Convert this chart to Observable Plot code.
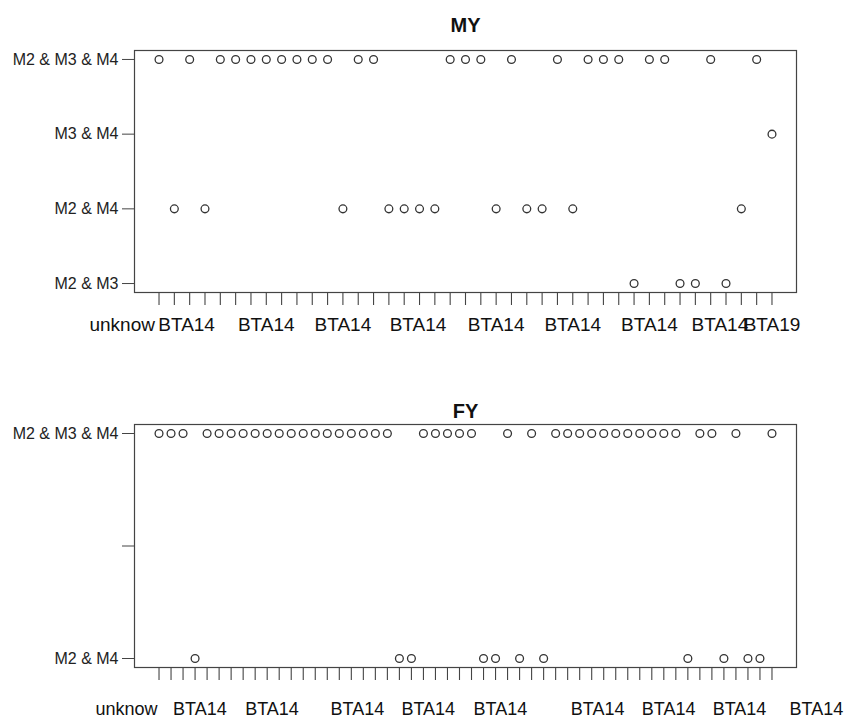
<!DOCTYPE html>
<html>
<head>
<meta charset="utf-8">
<script src="https://cdn.jsdelivr.net/npm/d3@7"></script>
<script src="https://cdn.jsdelivr.net/npm/@observablehq/plot@0.6"></script>
<style>
  body { margin: 0; background: #fff; }
  #chart svg { display: block; }
</style>
</head>
<body>
<div id="chart"></div>
<script>
// ---- MY panel data ----
const myLevels = ["M2 & M3", "M2 & M4", "M3 & M4", "M2 & M3 & M4"];
// category code (1..4 into myLevels) for each of the 41 positions
const myCodes = [4,2,4,2,4,4,4,4,4,4,4,4,2,4,4,2,2,2,2,4,4,4,2,4,2,2,4,2,4,4,4,1,4,4,1,1,4,1,2,4,3];
const myTickLabels = ["unknow","BTA14","BTA14","BTA14","BTA14","BTA14","BTA14","BTA14","BTA14","BTA19"];
const myTickLabelPos = [-1.4, 2.8, 8, 13, 17.9, 23, 28, 33, 37.6, 41];

// ---- FY panel data ----
const fyLevels = ["M2 & M4", "", "M2 & M3 & M4"];
const fyCodes = [3,3,3,1, 3,3,3,3,3,3,3,3,3,3,3,3,3,3,3,3, 1,1, 3,3,3,3,3, 1,1, 3, 1, 3, 1,
                 3,3,3,3,3,3,3,3,3,3,3, 1, 3,3, 1, 3, 1,1, 3];
const fyTickLabels = ["unknow","BTA14","BTA14","BTA14","BTA14","BTA14","BTA14","BTA14","BTA14","BTA14"];
const fyTickLabelPos = [-1.7, 4.4, 10.4, 17.5, 23.4, 29.4, 37.5, 43.4, 49.3, 55.7];

const font = "'Liberation Sans', Arial, Helvetica, sans-serif";

function panel({title, levels, codes, labels, labelPos, marginTop, marginBottom, titleDy, labelDy, labelSize}) {
  const n = codes.length;
  const idx = d3.range(1, n + 1);
  const padX = (n - 1) * 0.04;
  const padY = (levels.length - 1) * 0.04;
  return Plot.plot({
    width: 846,
    height: 360,
    marginLeft: 134,
    marginRight: 50,
    marginTop,
    marginBottom,
    style: {fontFamily: font, fontSize: "16px", color: "#222", background: "white", overflow: "visible"},
    x: {domain: [1 - padX, n + padX], axis: null},
    y: {domain: [1 - padY, levels.length + padY], axis: null},
    marks: [
      Plot.frame({stroke: "#444", strokeWidth: 1.2}),
      Plot.axisX({ticks: idx, tickSize: 13, tickFormat: () => "", stroke: "#444", strokeWidth: 1.1}),
      Plot.axisY({ticks: d3.range(1, levels.length + 1), tickFormat: (d) => levels[d - 1],
                  tickSize: 12, tickPadding: 4, fontSize: 16, stroke: "#444", fill: "#222"}),
      Plot.dot(idx, {x: idx, y: codes, r: 3.9, stroke: "#333", strokeWidth: 1.3, fill: "none"}),
      Plot.text(labels, {x: labelPos, frameAnchor: "bottom", lineAnchor: "top", dy: labelDy,
                         fontSize: labelSize, fill: "#111"}),
      Plot.text([title], {frameAnchor: "top", dy: titleDy, fontSize: 20, fontWeight: "bold", fill: "#111"})
    ]
  });
}

const chart = document.getElementById("chart");
chart.append(panel({
  title: "MY", levels: myLevels, codes: myCodes, labels: myTickLabels, labelPos: myTickLabelPos,
  marginTop: 50, marginBottom: 68, titleDy: -33, labelDy: 25, labelSize: 19
}));
chart.append(panel({
  title: "FY", levels: fyLevels, codes: fyCodes, labels: fyTickLabels, labelPos: fyTickLabelPos,
  marginTop: 64, marginBottom: 53, titleDy: -21, labelDy: 35, labelSize: 18
}));
</script>
</body>
</html>
